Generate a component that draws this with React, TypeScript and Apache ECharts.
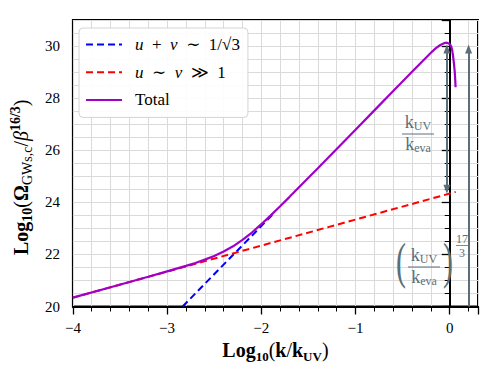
import React, { useEffect, useRef } from 'react';
import * as echarts from 'echarts';

// ---- data ----
const blueK = [-2.835, -1.87];
const blueOmega = [20.0, 23.57];

const redK = [-4.0, 0.063];
const redOmega = [20.34, 24.4];

const totalK = [
  -4.0, -3.6, -3.2, -3.0, -2.8, -2.7, -2.6, -2.5, -2.4, -2.3, -2.2, -2.1, -2.0,
  -1.9, -1.8, -1.7, -1.6, -1.4, -1.2, -1.0, -0.8, -0.6, -0.4, -0.3, -0.2, -0.15,
  -0.1, -0.06, -0.03, 0.0, 0.015, 0.025, 0.035, 0.045, 0.053, 0.058, 0.062,
];
const totalOmega = [
  20.34, 20.74, 21.14, 21.35, 21.56, 21.67, 21.8, 21.94, 22.11, 22.31, 22.56, 22.84, 23.16,
  23.5, 23.85, 24.21, 24.58, 25.31, 26.05, 26.79, 27.53, 28.27, 29.01, 29.38, 29.74, 29.91,
  30.04, 30.11, 30.13, 30.08, 29.99, 29.86, 29.62, 29.32, 29.02, 28.72, 28.42,
];

// arrows (line end points in data units)
const arrowDoubleK = [-0.03, -0.03];
const arrowDoubleOmega = [29.89, 24.5];
const arrowUpK = [0.2, 0.2];
const arrowUpOmega = [20.0, 29.89];

const seriesNames = ['blue', 'red', 'Total'];
const legendLabels: Record<string, string> = {
  blue: '{i|u}\u2002+\u2002{i|v}\u2002\u223C\u20021/\u221A3',
  red: '{i|u}\u2002\u223C\u2002{i|v}\u2002\u226B\u20021',
  Total: 'Total',
};

const xMin = -4;
const xMax = 0.3;
const yMin = 20;
const yMax = 31;

const SERIF = '"Liberation Serif", "DejaVu Serif", serif';
const ANN = '#5a6f7a';

const zip = (a: number[], b: number[]) => a.map((v, i) => [v, b[i]]);
const fmt = (v: number) => (v < 0 ? '\u2212' + Math.abs(v) : String(v));

export default function App() {
  const ref = useRef<HTMLDivElement>(null);
  useEffect(() => {
    if (!ref.current) return;
    const chart = echarts.init(ref.current, null, { renderer: 'svg' });
    const grid = { left: 70, top: 20, right: 20, bottom: 67.5 };
    const annRich = {
      k: { fontSize: 18, fontFamily: SERIF, fill: ANN, lineHeight: 20 },
      s: { fontSize: 12, fontFamily: SERIF, fill: ANN, lineHeight: 12, verticalAlign: 'bottom' },
    };
    const titleRich = (sub: number) => ({
      b: { fontFamily: SERIF, fontWeight: 'bold', fontSize: 20, color: '#000', lineHeight: 26 },
      r: { fontFamily: SERIF, fontSize: 20, color: '#000', lineHeight: 26 },
      it: { fontFamily: SERIF, fontStyle: 'italic', fontSize: 20, color: '#000', lineHeight: 26 },
      bs: { fontFamily: SERIF, fontWeight: 'bold', fontSize: sub, color: '#000', lineHeight: sub, verticalAlign: 'bottom' },
      s: { fontFamily: SERIF, fontSize: sub, color: '#000', lineHeight: sub, verticalAlign: 'bottom' },
      bsup: { fontFamily: SERIF, fontWeight: 'bold', fontSize: sub, color: '#000', lineHeight: sub + 2, verticalAlign: 'top' },
    });
    const option: any = {
      animation: false,
      backgroundColor: '#ffffff',
      grid: { ...grid, show: true, borderColor: '#000', borderWidth: 2, backgroundColor: 'transparent' },
      legend: {
        left: 79,
        top: 28,
        orient: 'vertical',
        padding: [8, 8, 9, 6],
        itemWidth: 36,
        itemHeight: 14,
        itemGap: 10.7,
        backgroundColor: 'rgba(255,255,255,0.9)',
        borderColor: '#d4d4d4',
        borderWidth: 1,
        borderRadius: 4,
        itemStyle: { opacity: 0 },
        data: seriesNames,
        formatter: (name: string) => legendLabels[name],
        textStyle: {
          fontFamily: SERIF,
          fontSize: 17,
          color: '#000',
          lineHeight: 14,
          padding: [0, 0, 0, 8],
          rich: { i: { fontStyle: 'italic', fontFamily: SERIF, fontSize: 17, color: '#000' } },
        },
      },
      xAxis: {
        type: 'value',
        min: xMin,
        max: xMax,
        interval: 1,
        name: '{b|Log}{bs|10}{r|(}{b|k}{r|/}{b|k}{bs|UV}{r|)}',
        nameLocation: 'middle',
        nameGap: 27,
        nameTextStyle: { rich: titleRich(13) },
        axisLine: { show: true, lineStyle: { color: '#000', width: 2 } },
        axisTick: { show: true, inside: false, length: 8, lineStyle: { color: '#000', width: 1.3 } },
        minorTick: { show: true, splitNumber: 5, length: 5, lineStyle: { color: '#000', width: 1 } },
        splitLine: { show: true, lineStyle: { color: '#dadada', width: 1 } },
        minorSplitLine: { show: true, lineStyle: { color: '#dadada', width: 1 } },
        axisLabel: { margin: 14, fontFamily: SERIF, fontSize: 15, color: '#000', formatter: fmt, showMaxLabel: false },
      },
      yAxis: {
        type: 'value',
        min: yMin,
        max: yMax,
        interval: 2,
        name: '{b|Log}{bs|10}{r|(}{b|\u03A9}{s|GWs,c}{r|/}{it|\u03B2}{bsup|16/3}{r|)}',
        nameLocation: 'middle',
        nameRotate: 90,
        nameGap: 38,
        nameTextStyle: { rich: titleRich(14), padding: [0, 28, 0, 0] },
        axisLine: { show: true, lineStyle: { color: '#000', width: 2 } },
        axisTick: { show: true, inside: false, length: 8, lineStyle: { color: '#000', width: 1.3 } },
        minorTick: { show: true, splitNumber: 4, length: 5, lineStyle: { color: '#000', width: 1 } },
        splitLine: { show: true, lineStyle: { color: '#dadada', width: 1 } },
        minorSplitLine: { show: true, lineStyle: { color: '#dadada', width: 1 } },
        axisLabel: { margin: 13, fontFamily: SERIF, fontSize: 15, color: '#000', showMaxLabel: false },
      },
      series: [
        {
          name: 'blue',
          type: 'line',
          data: zip(blueK, blueOmega),
          symbol: 'none',
          showSymbol: false,
          z: 2,
          lineStyle: { color: '#0000ff', width: 2, type: [7, 4] },
          itemStyle: { color: '#0000ff' },
        },
        {
          name: 'red',
          type: 'line',
          data: zip(redK, redOmega),
          symbol: 'none',
          showSymbol: false,
          z: 3,
          lineStyle: { color: '#ff0000', width: 2, type: [7, 4] },
          itemStyle: { color: '#ff0000' },
          markLine: {
            silent: true,
            animation: false,
            symbol: ['triangle', 'triangle'],
            symbolSize: [7, 9],
            label: { show: false },
            lineStyle: { color: ANN, width: 2, type: 'solid' },
            itemStyle: { color: ANN },
            emphasis: { disabled: true },
            data: [
              [
                { coord: [arrowDoubleK[0], arrowDoubleOmega[0]] },
                { coord: [arrowDoubleK[1], arrowDoubleOmega[1]] },
              ],
              [
                { coord: [arrowUpK[0], arrowUpOmega[0]], symbol: 'none' },
                { coord: [arrowUpK[1], arrowUpOmega[1]], symbol: 'triangle' },
              ],
            ],
          },
        },
        {
          name: 'Total',
          type: 'line',
          data: zip(totalK, totalOmega),
          symbol: 'none',
          showSymbol: false,
          z: 4,
          lineStyle: { color: '#a000c8', width: 2.2 },
          itemStyle: { color: '#a000c8' },
        },
      ],
      graphic: {
        elements: [
          // first fraction kUV / keva
          {
            type: 'text', x: 418, y: 132, z: 10,
            style: { text: '{k|k}{s|UV}', rich: annRich, align: 'center', textAlign: 'center', verticalAlign: 'bottom', textVerticalAlign: 'bottom', fill: ANN },
          },
          { type: 'line', z: 10, shape: { x1: 402, y1: 134, x2: 434, y2: 134 }, style: { stroke: ANN, lineWidth: 1 } },
          {
            type: 'text', x: 418, y: 134, z: 10,
            style: { text: '{k|k}{s|eva}', rich: annRich, align: 'center', textAlign: 'center', verticalAlign: 'top', textVerticalAlign: 'top', fill: ANN },
          },
          // second: (kUV/keva)^(17/3)
          {
            type: 'text', x: 424, y: 265, z: 10,
            style: { text: '{k|k}{s|UV}', rich: annRich, align: 'center', textAlign: 'center', verticalAlign: 'bottom', textVerticalAlign: 'bottom', fill: ANN },
          },
          { type: 'line', z: 10, shape: { x1: 408, y1: 267, x2: 440, y2: 267 }, style: { stroke: ANN, lineWidth: 1 } },
          {
            type: 'text', x: 424, y: 267, z: 10,
            style: { text: '{k|k}{s|eva}', rich: annRich, align: 'center', textAlign: 'center', verticalAlign: 'top', textVerticalAlign: 'top', fill: ANN },
          },
          {
            type: 'text', x: 401, y: 261, z: 10, scaleY: 1.7,
            style: { text: '(', fontSize: 30, fontFamily: SERIF, fill: ANN, align: 'center', textAlign: 'center', verticalAlign: 'middle', textVerticalAlign: 'middle' },
          },
          {
            type: 'text', x: 448, y: 261, z: 10, scaleY: 1.7,
            style: { text: ')', fontSize: 30, fontFamily: SERIF, fill: ANN, align: 'center', textAlign: 'center', verticalAlign: 'middle', textVerticalAlign: 'middle' },
          },
          {
            type: 'text', x: 462, y: 244.5, z: 10,
            style: { text: '17', fontSize: 12, fontFamily: SERIF, fill: ANN, align: 'center', textAlign: 'center', verticalAlign: 'bottom', textVerticalAlign: 'bottom' },
          },
          { type: 'line', z: 10, shape: { x1: 456, y1: 245.5, x2: 468, y2: 245.5 }, style: { stroke: ANN, lineWidth: 0.8 } },
          {
            type: 'text', x: 462, y: 246.5, z: 10,
            style: { text: '3', fontSize: 12, fontFamily: SERIF, fill: ANN, align: 'center', textAlign: 'center', verticalAlign: 'top', textVerticalAlign: 'top' },
          },
        ],
      },
    };
    chart.setOption(option);
    return () => chart.dispose();
  }, []);
  return (
    <div
      ref={ref}
      style={{ position: 'fixed', left: 0, top: 0, width: 498, height: 374, background: '#fff' }}
    />
  );
}
